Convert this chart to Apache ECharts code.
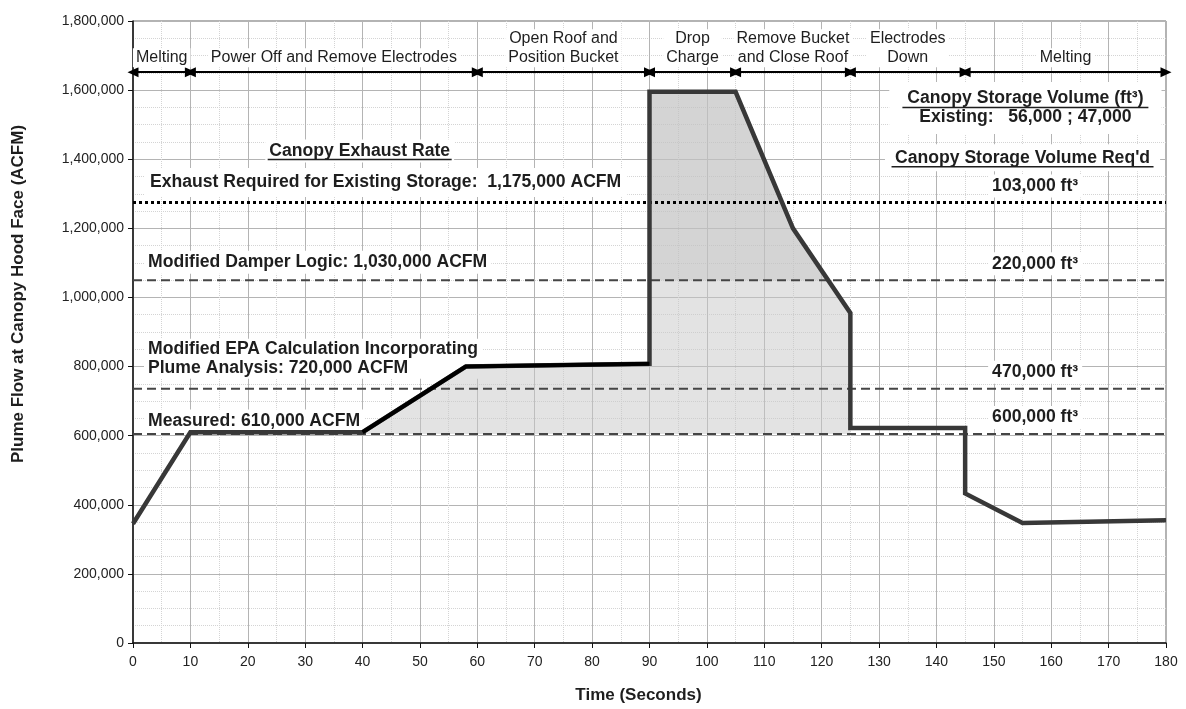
<!DOCTYPE html>
<html><head><meta charset="utf-8">
<script src="https://cdn.jsdelivr.net/npm/echarts@6/dist/echarts.min.js"></script>
<style>html,body{margin:0;padding:0;background:#fff}#c{width:1186px;height:709px}</style>
</head><body><div id="c"></div>
<script>
// ---- data ----
const timeSec  = [0, 10, 40, 58, 90, 90, 105, 115, 125, 125, 145, 145, 155, 180];
const flowAcfm = [345000, 610000, 610000, 800000, 808000, 1595000, 1595000, 1200000, 955000, 622000, 622000, 433000, 347000, 355000];
const epaSegStart = 2, epaSegEnd = 4;      // black segment (indices)
const fillStart = 2, fillEnd = 8;          // shaded region (indices)
const fillBase = 605000;
const darkThreshold = 1050000;

const refLineValues = [1275000, 1050000, 736000, 605000];
const refLineLabels = [
  'Exhaust Required for Existing Storage:  1,175,000 ACFM',
  'Modified Damper Logic: 1,030,000 ACFM',
  'Modified EPA Calculation Incorporating\nPlume Analysis: 720,000 ACFM',
  'Measured: 610,000 ACFM'
];
const storageLabels = ['103,000 ft³', '220,000 ft³', '470,000 ft³', '600,000 ft³'];

const phaseNames = ['Melting', 'Power Off and Remove Electrodes', 'Open Roof and\nPosition Bucket', 'Drop\nCharge', 'Remove Bucket\nand Close Roof', 'Electrodes\nDown', 'Melting'];
const phaseStart = [0, 10, 60, 90, 105, 125, 145];
const phaseEnd   = [10, 60, 90, 105, 125, 145, 180];

const xTicks = { min: 0, max: 180, interval: 10 };
const yTicks = { min: 0, max: 1800000, interval: 200000 };

// ---- chart ----
const FONT = "'Liberation Sans', Arial, sans-serif";
const TXT = '#1e1e1e';
const ARROW_Y = 1652000;

const pts = timeSec.map((t, i) => [t, flowAcfm[i]]);
const fullLine = v => [[xTicks.min, v], [xTicks.max, v]];
const fillPts = pts.slice(fillStart, fillEnd + 1);

// clip a pixel polygon to the half-plane above a horizontal pixel line
function clipAbove(poly, yLim) {
  const out = [];
  for (let i = 0; i < poly.length; i++) {
    const a = poly[i], b = poly[(i + 1) % poly.length];
    const ain = a[1] <= yLim, bin = b[1] <= yLim;
    if (ain) out.push(a);
    if (ain !== bin) {
      const t = (yLim - a[1]) / (b[1] - a[1]);
      out.push([a[0] + t * (b[0] - a[0]), yLim]);
    }
  }
  return out;
}

const chart = echarts.init(document.getElementById('c'), null, { renderer: 'canvas' });

const dashed = { color: '#454545', width: 2, type: [9, 5] };
const series = [
  { type: 'line', name: 'exhaust', data: fullLine(refLineValues[0]), symbol: 'none', silent: true,
    lineStyle: { color: '#000', width: 3, type: [3, 3], cap: 'butt' }, animation: false },
  { type: 'custom', name: 'fill', silent: true, animation: false, data: [[0]],
    renderItem: function (params, api) {
      const poly = fillPts.map(p => api.coord(p));
      poly.push(api.coord([fillPts[fillPts.length - 1][0], fillBase]));
      poly.push(api.coord([fillPts[0][0], fillBase]));
      const dark = clipAbove(poly, api.coord([0, darkThreshold])[1]);
      return { type: 'group', children: [
        { type: 'polygon', shape: { points: poly }, style: { fill: 'rgba(200,200,200,0.5)', stroke: null } },
        { type: 'polygon', shape: { points: dark }, style: { fill: 'rgba(190,190,190,0.42)', stroke: null } }
      ] };
    } },
  { type: 'line', name: 'damper', data: fullLine(refLineValues[1]), symbol: 'none', silent: true,
    lineStyle: dashed, animation: false },
  { type: 'line', name: 'epa', data: fullLine(refLineValues[2]), symbol: 'none', silent: true,
    lineStyle: dashed, animation: false },
  { type: 'line', name: 'measured', data: fullLine(refLineValues[3]), symbol: 'none', silent: true,
    lineStyle: dashed, animation: false },
  { type: 'line', name: 'plume', data: pts, symbol: 'none', silent: true,
    lineStyle: { color: '#383838', width: 4.5, join: 'miter' }, animation: false },
  { type: 'line', name: 'plumeEpa', data: pts.slice(epaSegStart, epaSegEnd + 1), symbol: 'none', silent: true,
    lineStyle: { color: '#000', width: 4 }, animation: false },
  { type: 'line', name: 'phases', data: [], silent: true, animation: false,
    markLine: {
      silent: true, animation: false, symbol: ['triangle', 'triangle'], symbolSize: [10, 11],
      lineStyle: { color: '#000', width: 2, type: 'solid' },
      label: { show: true, position: 'insideMiddleTop', distance: 5, color: TXT, fontFamily: FONT,
        fontSize: 16, lineHeight: 19, backgroundColor: '#fff', padding: [0, 3], align: 'center' },
      data: phaseNames.map((n, i) => [
        { coord: [phaseStart[i], ARROW_Y], label: { formatter: n } },
        { coord: [phaseEnd[i], ARROW_Y] }
      ])
    } }
];

const option = {
  backgroundColor: '#fff',
  animation: false,
  grid: { left: 133, right: 20, top: 21, bottom: 65, show: true, borderColor: '#666', borderWidth: 1 },
  xAxis: {
    type: 'value', min: xTicks.min, max: xTicks.max, interval: xTicks.interval,
    name: 'Time (Seconds)', nameLocation: 'middle', nameGap: 44,
    nameTextStyle: { fontFamily: FONT, fontWeight: 'bold', fontSize: 17, color: TXT, padding: [0, 22, 0, 0] },
    axisLine: { show: true, onZero: false, lineStyle: { color: '#111', width: 1.5 } },
    axisTick: { show: true, length: 5, lineStyle: { color: '#111' } },
    axisLabel: { fontFamily: FONT, fontSize: 14, color: '#222', margin: 12 },
    splitLine: { show: true, lineStyle: { color: '#b4b4b4', width: 1 } },
    minorTick: { show: false, splitNumber: 2 },
    minorSplitLine: { show: true, lineStyle: { color: '#d4d4d4', width: 1, type: 'dotted' } }
  },
  yAxis: {
    type: 'value', min: yTicks.min, max: yTicks.max, interval: yTicks.interval,
    name: 'Plume Flow at Canopy Hood Face (ACFM)', nameLocation: 'middle', nameGap: 106, nameRotate: 90,
    nameTextStyle: { fontFamily: FONT, fontWeight: 'bold', fontSize: 17, color: TXT, padding: [0, 0, 0, 76] },
    axisLine: { show: true, onZero: false, lineStyle: { color: '#111', width: 1.5 } },
    axisTick: { show: true, length: 5, lineStyle: { color: '#111' } },
    axisLabel: { fontFamily: FONT, fontSize: 14, color: '#222', margin: 9,
      formatter: v => v.toLocaleString('en-US') },
    splitLine: { show: true, lineStyle: { color: '#b4b4b4', width: 1 } },
    minorTick: { show: false, splitNumber: 4 },
    minorSplitLine: { show: true, lineStyle: { color: '#d4d4d4', width: 1, type: 'dotted' } }
  },
  series: series
};
chart.setOption(option);

// ---- annotations positioned from the axes ----
const py = v => chart.convertToPixel({ gridIndex: 0 }, [0, v])[1];
const px = t => chart.convertToPixel({ gridIndex: 0 }, [t, 0])[0];

function txt(x, y, text, opts) {
  opts = opts || {};
  return {
    type: 'text', x: x, y: y, z: 1, silent: true,
    style: {
      text: text, fill: TXT,
      font: (opts.bold === false ? '' : 'bold ') + (opts.size || 17.6) + 'px ' + FONT,
      align: opts.align || 'left', textAlign: opts.align || 'left',
      verticalAlign: 'middle', textVerticalAlign: 'middle',
      lineHeight: opts.lh || 19,
      backgroundColor: '#fff', padding: opts.pad || [2, 4]
    }
  };
}
function uline(x1, x2, y) {
  return { type: 'line', z: 1, silent: true, shape: { x1: x1, y1: y, x2: x2, y2: y },
    style: { stroke: TXT, lineWidth: 1.5 } };
}

const leftX = px(0) + 11;
const g = [];
// left block
const cerX = px(39.5), cerY = py(1424000);
g.push(txt(cerX, cerY, 'Canopy Exhaust Rate', { align: 'center' }));
g.push(uline(cerX - 92, cerX + 92, cerY + 8.5));
g.push(txt(leftX, py(refLineValues[0]) - 20, refLineLabels[0], { pad: [5, 6] }));
g.push(txt(leftX, py(refLineValues[1]) - 18, refLineLabels[1]));
g.push(txt(leftX, py(refLineValues[2]) - 30, refLineLabels[2], { pad: [1, 4] }));
g.push(txt(leftX, py(refLineValues[3]) - 13, refLineLabels[3]));
// right block
const hdrX = px(155.5), hdrY = py(1576000);
g.push(txt(hdrX, hdrY + 9.5, 'Canopy Storage Volume (ft³)\nExisting:   56,000 ; 47,000', { align: 'center', pad: [7, 18] }));
g.push(uline(hdrX - 123, hdrX + 123, hdrY + 9));
const reqX = px(155), reqY = py(1404000);
g.push(txt(reqX, reqY, "Canopy Storage Volume Req'd", { align: 'center', pad: [4, 10] }));
g.push(uline(reqX - 131, reqX + 131, reqY + 9));
const volX = px(157.2);
storageLabels.forEach((s, i) => {
  g.push(txt(volX, py(refLineValues[i]) - 16.5, s, { align: 'center' }));
});
chart.setOption({ graphic: { z: 1, elements: g } });
</script>
</body></html>
